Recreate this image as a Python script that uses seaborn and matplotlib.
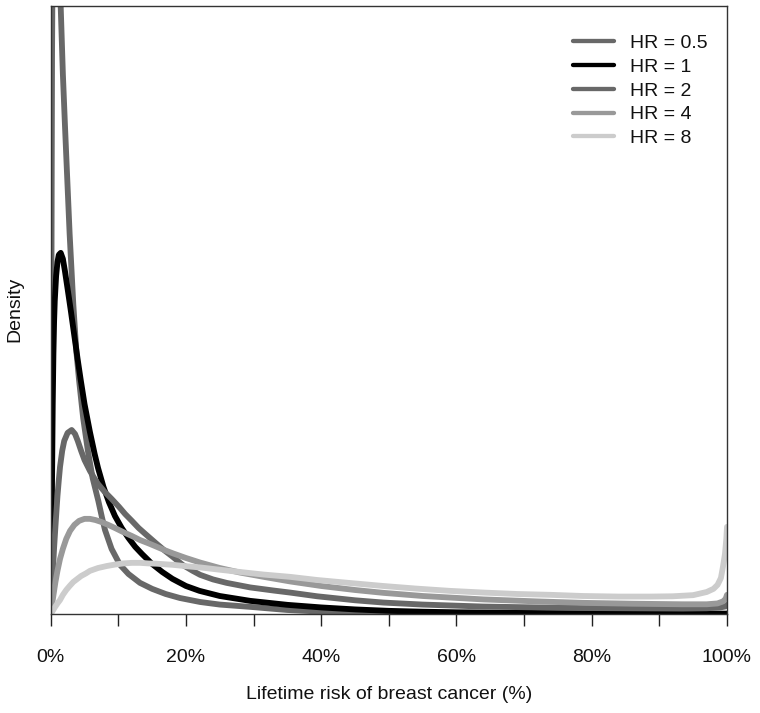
import numpy as np
import pandas as pd
import matplotlib
matplotlib.use("Agg")
import matplotlib.pyplot as plt
from matplotlib.lines import Line2D
from matplotlib.ticker import FixedLocator, FuncFormatter
import seaborn as sns

# ---- data (risk in %, density per unit risk) ----
hr05_x = [0, 0.05, 0.1, 0.15, 0.2, 0.3, 0.4, 0.5, 0.65, 0.8, 1.0, 1.2, 1.48, 1.8, 2.1,
          2.37, 2.8, 3.34, 3.8, 4.19, 4.8, 5.5, 6.2, 7.04, 7.6, 8.03, 9.0, 10.25, 11.5,
          13.2, 15.0, 17.0, 19.1, 22.1, 25, 29.5, 35, 39.4, 45, 50, 60, 80, 100]
hr05_y = [0, 5.25, 10.5, 15.4, 19.6, 23.8, 26.25, 27.3, 27.65, 26.95, 25.55, 23.8, 21.25,
          18.9, 17.15, 15.65, 13.3, 10.85, 9.17, 8.19, 6.86, 5.71, 4.76, 3.96, 3.36, 2.94,
          2.28, 1.72, 1.40, 1.09, 0.88, 0.70, 0.56, 0.42, 0.33, 0.25, 0.14, 0.09, 0.06,
          0.05, 0.03, 0.02, 0.01]

hr1_x = [0, 0.05, 0.1, 0.15, 0.2, 0.3, 0.4, 0.5, 0.6, 0.8, 1.0, 1.2, 1.48, 1.8, 2.1, 2.5,
         2.96, 3.5, 4.0, 4.44, 5.0, 5.8, 6.5, 7.0, 7.8, 8.6, 9.5, 10.5, 11.5, 12.5, 13.5,
         15.0, 16.5, 18.0, 20.0, 22.0, 25.0, 29.5, 35.0, 40.0, 45, 50, 55, 60, 70, 80, 90, 100]
hr1_y = [0, 0.53, 1.40, 2.98, 4.73, 7.35, 9.10, 10.22, 10.96, 11.83, 12.32, 12.57, 12.64,
         12.43, 12.01, 11.38, 10.64, 9.73, 8.89, 8.19, 7.35, 6.37, 5.60, 5.11, 4.45, 3.92,
         3.43, 3.01, 2.66, 2.35, 2.10, 1.75, 1.47, 1.23, 0.98, 0.81, 0.63, 0.46, 0.32, 0.23,
         0.16, 0.11, 0.08, 0.06, 0.04, 0.02, 0.02, 0.01]

hr2_x = [0, 0.15, 0.3, 0.5, 0.64, 0.8, 1.0, 1.2, 1.38, 1.7, 2.0, 2.5, 3.1, 3.6, 4.0, 4.5,
         5.0, 5.8, 6.5, 7.0, 8.0, 9.0, 10.1, 11.0, 12.0, 13.0, 14.0, 15.5, 16.9, 18.0, 19.5,
         21.0, 22.1, 24, 26, 29.5, 33, 35.4, 39.4, 45, 49.2, 55, 64, 72, 78.7, 86, 93.5, 97,
         99, 99.7, 100]
hr2_y = [0, 0.70, 1.40, 2.31, 2.84, 3.43, 4.13, 4.69, 5.15, 5.71, 6.06, 6.34, 6.44, 6.30,
         6.06, 5.71, 5.39, 5.01, 4.73, 4.55, 4.27, 4.03, 3.75, 3.50, 3.26, 3.01, 2.80, 2.49,
         2.21, 2.01, 1.72, 1.51, 1.37, 1.21, 1.09, 0.93, 0.82, 0.75, 0.62, 0.48, 0.40, 0.33,
         0.26, 0.23, 0.21, 0.20, 0.19, 0.20, 0.23, 0.26, 0.32]

hr4_x = [0, 0.15, 0.3, 0.5, 0.7, 1.0, 1.38, 1.8, 2.3, 2.86, 3.5, 4.2, 5.0, 5.8, 6.6, 7.5,
         8.5, 9.5, 10.7, 12.0, 13.2, 14.5, 15.7, 17.0, 18.1, 20.0, 22.1, 25, 28, 31.5, 35.4,
         40, 45, 49.2, 55, 64, 72, 78.7, 86, 93.5, 97, 98.6, 99.4, 99.8, 100]
hr4_y = [0, 0.25, 0.49, 0.81, 1.12, 1.51, 1.93, 2.28, 2.63, 2.91, 3.12, 3.26, 3.33, 3.33,
         3.29, 3.22, 3.12, 3.01, 2.87, 2.73, 2.59, 2.47, 2.35, 2.22, 2.12, 1.96, 1.80, 1.61,
         1.45, 1.30, 1.14, 0.98, 0.84, 0.74, 0.63, 0.51, 0.44, 0.39, 0.36, 0.34, 0.34, 0.37,
         0.44, 0.53, 0.67]

hr8_x = [0, 0.3, 0.6, 1.0, 1.38, 1.8, 2.3, 2.8, 3.34, 4.0, 4.5, 5.2, 5.8, 7.0, 8.3, 9.5,
         10.7, 12.0, 13.2, 14.5, 15.7, 18.1, 20.6, 22.1, 25, 28, 31.5, 35.4, 39.4, 44, 49.2,
         54, 59, 64, 69, 74, 78.7, 84, 88.6, 92, 95, 97, 98, 98.6, 99.1, 99.4, 99.7, 99.9, 100]
hr8_y = [0, 0.11, 0.23, 0.37, 0.49, 0.67, 0.84, 0.98, 1.12, 1.24, 1.33, 1.42, 1.51, 1.61,
         1.68, 1.73, 1.77, 1.79, 1.79, 1.77, 1.76, 1.72, 1.66, 1.63, 1.55, 1.47, 1.38, 1.30,
         1.19, 1.09, 0.98, 0.89, 0.81, 0.75, 0.70, 0.67, 0.63, 0.61, 0.61, 0.62, 0.66, 0.77,
         0.88, 1.02, 1.26, 1.65, 2.10, 2.63, 3.05]

labels = ["HR = 0.5", "HR = 1", "HR = 2", "HR = 4", "HR = 8"]
colors = ["#686868", "#000000", "#686868", "#999999", "#cccccc"]
tick_pos = [0, 10, 20, 30, 40, 50, 60, 70, 80, 90, 100]

series = [(hr05_x, hr05_y), (hr1_x, hr1_y), (hr2_x, hr2_y), (hr4_x, hr4_y), (hr8_x, hr8_y)]
df = pd.concat(
    [pd.DataFrame({"risk": sx, "density": sy, "hr": lab}) for (sx, sy), lab in zip(series, labels)],
    ignore_index=True,
)

sns.set_theme(style="white")
plt.rcParams["font.family"] = ["Liberation Sans", "DejaVu Sans"]

W, H = 760, 713
fig = plt.figure(figsize=(W / 100, H / 100), dpi=100)
L, R, T, B = 50.7, 727.0, 5.7, 614.0
ax = fig.add_axes([L / W, 1 - B / H, (R - L) / W, (B - T) / H])

sns.lineplot(data=df, x="risk", y="density", hue="hr", hue_order=labels,
             palette=dict(zip(labels, colors)), linewidth=4.2, sort=False,
             estimator=None, legend=False, ax=ax)
for ln in ax.get_lines():
    ln.set_solid_capstyle("round")
    ln.set_solid_joinstyle("round")

ax.set_xlim(0, 100)
ax.set_ylim(0, 21.29)
ax.xaxis.set_major_locator(FixedLocator(tick_pos))
ax.xaxis.set_major_formatter(FuncFormatter(lambda v, p: f"{int(round(v))}%" if int(round(v)) % 20 == 0 else ""))
ax.set_yticks([])
ax.tick_params(axis="x", bottom=True, direction="out", length=8.6, width=1.0,
               color="#222222", labelsize=14, pad=16.3, labelcolor="#111111")
for sp in ax.spines.values():
    sp.set_visible(True)
    sp.set_color("#333333")
    sp.set_linewidth(1.0)

ax.set_xlabel("Lifetime risk of breast cancer (%)", fontsize=14, labelpad=15, color="#111111")
ax.set_ylabel("Density", fontsize=14, labelpad=19.5, color="#111111")

handles = [Line2D([0], [0], color=c, linewidth=3.1, solid_capstyle="round") for c in colors]
leg = ax.legend(handles, labels, loc="upper left", bbox_to_anchor=(573 / W, 1 - 34.5 / H),
                bbox_transform=fig.transFigure, frameon=False, fontsize=14,
                handlelength=2.1, handletextpad=0.85, labelspacing=0.315, borderpad=0,
                borderaxespad=0)
for t in leg.get_texts():
    t.set_color("#111111")

fig.savefig("out.png", dpi=100, facecolor="white")
